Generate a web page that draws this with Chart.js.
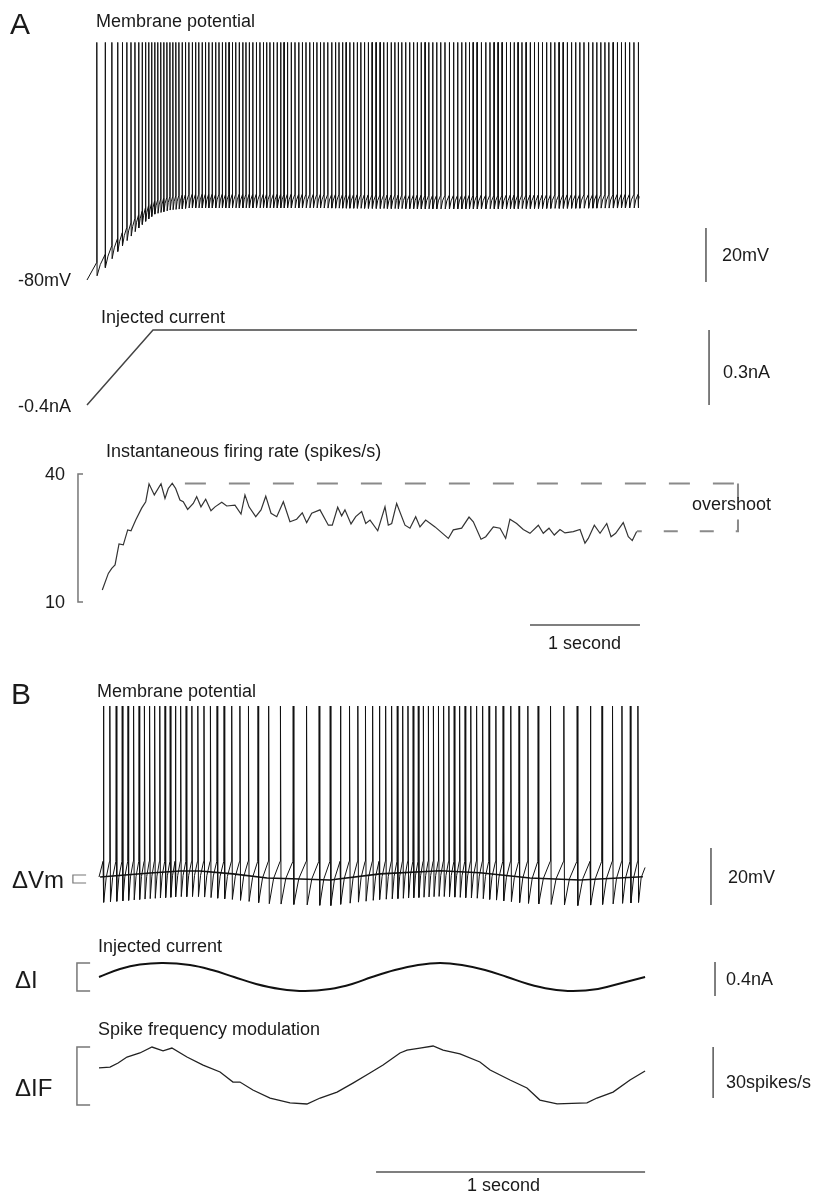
<!DOCTYPE html>
<html>
<head>
<meta charset="utf-8">
<script src="https://cdn.jsdelivr.net/npm/chart.js@4.4.1/dist/chart.umd.min.js"></script>
<style>
body{margin:0;background:#fff;font-family:"Liberation Sans",Arial,Helvetica,sans-serif;color:#1a1a1a;}
#fig{position:relative;width:813px;height:1192px;overflow:hidden;}
#fig canvas{position:absolute;left:0;}
.t{position:absolute;white-space:nowrap;font-size:18px;line-height:1;transform:translateY(-50%);}
.big{font-size:30px;}
.sym{font-size:24px;}
</style>
</head>
<body>
<div id="fig">
<canvas id="aVm" width="813" height="280" style="top:20px"></canvas>
<canvas id="aI" width="813" height="120" style="top:300px"></canvas>
<canvas id="aF" width="813" height="200" style="top:460px"></canvas>
<canvas id="bVm" width="813" height="235" style="top:690px"></canvas>
<canvas id="bI" width="813" height="60" style="top:950px"></canvas>
<canvas id="bF" width="813" height="157" style="top:1035px"></canvas>

<div class="t big" style="left:10px;top:24px">A</div>
<div class="t" style="left:96px;top:21px">Membrane potential</div>
<div class="t" style="left:18px;top:280px">-80mV</div>
<div class="t" style="left:722px;top:255px">20mV</div>
<div class="t" style="left:101px;top:317px">Injected current</div>
<div class="t" style="left:18px;top:406px">-0.4nA</div>
<div class="t" style="left:723px;top:372px">0.3nA</div>
<div class="t" style="left:106px;top:451px">Instantaneous firing rate (spikes/s)</div>
<div class="t" id="tickTop" style="left:45px;top:474px"></div>
<div class="t" id="tickBot" style="left:45px;top:602px"></div>
<div class="t" style="left:692px;top:504px">overshoot</div>
<div class="t" style="left:548px;top:643px">1 second</div>

<div class="t big" style="left:11px;top:694px">B</div>
<div class="t" style="left:97px;top:691px">Membrane potential</div>
<div class="t sym" style="left:12px;top:880px">ΔVm</div>
<div class="t" style="left:728px;top:877px">20mV</div>
<div class="t" style="left:98px;top:946px">Injected current</div>
<div class="t sym" style="left:15px;top:980px">ΔI</div>
<div class="t" style="left:726px;top:979px">0.4nA</div>
<div class="t" style="left:98px;top:1029px">Spike frequency modulation</div>
<div class="t sym" style="left:15px;top:1088px">ΔIF</div>
<div class="t" style="left:726px;top:1082px">30spikes/s</div>
<div class="t" style="left:467px;top:1185px">1 second</div>
</div>
<script>
// ---------- Panel A data ----------
// membrane potential: trough (AHP) level over time, mV
const aTroughT = [0, 0.09, 0.164, 0.255, 0.345, 0.436, 0.527, 0.618, 0.755, 0.936, 2.0, 3.3, 5.02];
const aTroughV = [-80, -78.5, -75.6, -70.7, -66.3, -62.2, -58.5, -55.6, -54.1, -53.3, -53.3, -53.7, -53.3];
const aSpikePeak = 8;      // mV
const aAhp = 5;            // mV from trough up to threshold
const aFirstSpike = 0.088; // s
const aTraceEnd = 5.02;    // s

// injected current ramp, nA
const aCurrentT = [0, 0.6, 5.0];
const aCurrentV = [-0.4, -0.1, -0.1];

// instantaneous firing rate, spikes/s
const aRateT = [0.139,0.194,0.225,0.255,0.291,0.330,0.370,0.400,0.443,0.497,0.534,0.564,0.612,0.673,0.709,0.739,0.775,0.806,0.845,0.875,0.915,0.966,0.997,1.036,1.079,1.127,1.164,1.225,1.270,1.345,1.400,1.436,1.473,1.534,1.582,1.625,1.673,1.725,1.785,1.845,1.906,1.957,1.997,2.043,2.118,2.194,2.230,2.279,2.315,2.345,2.400,2.443,2.497,2.534,2.573,2.643,2.709,2.739,2.770,2.815,2.891,2.936,2.988,3.027,3.079,3.164,3.285,3.330,3.406,3.473,3.512,3.582,3.625,3.694,3.755,3.806,3.845,3.906,3.966,4.027,4.103,4.148,4.200,4.248,4.300,4.345,4.421,4.482,4.527,4.557,4.612,4.664,4.725,4.764,4.806,4.875,4.921,4.957,4.997];
const aRateV = [12.8,16.7,17.9,18.7,23.6,23.4,26.9,26.7,29.2,32.0,33.5,37.7,35.1,37.7,34.3,36.6,37.8,36.6,33.9,33.5,31.7,33.1,34.7,32.3,34.1,31.4,32.3,33.4,32.5,32.7,30.6,35.1,32.3,30.0,31.6,34.8,30.8,30.0,33.5,28.8,29.4,30.9,28.6,30.8,31.6,28.0,28.0,32.2,30.2,31.6,28.3,30.0,31.2,28.4,29.2,26.7,32.3,28.0,28.4,33.1,28.0,27.3,30.0,27.6,29.2,27.6,24.9,26.9,27.3,29.9,28.8,24.7,25.3,27.6,27.3,24.9,29.4,28.4,27.0,26.1,28.0,26.1,27.3,25.7,27.0,26.2,26.5,27.0,23.8,24.9,28.0,26.1,28.4,25.3,26.1,28.6,25.3,24.4,26.5];
const aRateTicks = [40, 10];
const aOvershootLevels = [37.8, 26.6];   // peak and steady rate
const aOvershootSpan = [0.89, 5.0, 5.918];

// ---------- Panel B data ----------
const bVmT = [0.004, 0.190, 0.301, 0.375, 0.498, 0.625, 0.747, 0.859, 1.045, 1.268, 1.416, 1.602, 1.788, 2.022];
const bVmV = [-60, -58.6, -57.9, -57.9, -58.9, -60.35, -60.7, -61.05, -58.9, -57.8, -58.5, -60.35, -61.05, -59.9];
const bSpikePeak = 0;       // mV
const bThreshold = -54.5;   // mV
const bTroughBelowMean = 9; // mV
const bFirstSpike = 0.015;
const bTraceEnd = 2.03;

const bCurrentT = [0,0.078,0.152,0.238,0.338,0.42,0.502,0.584,0.673,0.766,0.859,0.941,1.015,1.1,1.186,1.268,1.349,1.435,1.517,1.595,1.677,1.762,1.855,1.944,2.03];
const bCurrentV = [0,0.094,0.147,0.165,0.141,0.082,0,-0.082,-0.141,-0.165,-0.141,-0.082,0,0.082,0.141,0.165,0.141,0.082,0,-0.082,-0.141,-0.165,-0.141,-0.07,0];

const bRateT = [0,0.041,0.071,0.104,0.152,0.197,0.238,0.271,0.327,0.387,0.450,0.498,0.524,0.572,0.636,0.710,0.773,0.822,0.885,0.944,1.007,1.056,1.119,1.145,1.193,1.242,1.279,1.342,1.416,1.454,1.528,1.591,1.639,1.703,1.814,1.851,1.911,1.974,2.030];
const bRateV = [41.1,41.6,44.0,47.5,49.9,53.4,51.1,52.8,47.5,42.8,38.7,32.8,32.8,28.1,23.4,20.5,19.9,23.4,26.9,32.2,38.1,42.8,49.9,51.6,52.8,54.0,51.6,49.3,44.6,39.9,34.0,29.3,22.2,19.9,20.5,23.4,26.9,34.0,39.3];

// scale bars: [time, from, to]
const aVmBar = [5.627, -80.7, -60.7];
const aIBar = [5.655, -0.4, -0.1];
const aTimeBar = [4.027, 5.027, 4.6];
const bVmBar = [2.275, -69.8, -49.8];
const bIBar = [2.29, -0.224, 0.176];
const bFBar = [2.283, 23.4, 53.4];
const bTimeBar = [1.03, 2.03, -20.1];

// ---------- helpers ----------
function interp(ts, vs, t){
  if(t<=ts[0]) return vs[0];
  for(let i=1;i<ts.length;i++){
    if(t<=ts[i]){let f=(t-ts[i-1])/(ts[i]-ts[i-1]); return vs[i-1]+f*(vs[i]-vs[i-1]);}
  }
  return vs[vs.length-1];
}
function spikesFromRate(ts, vs, t0, t1){
  let out=[t0], phase=0, dt=0.0001;
  for(let t=t0;t<t1;t+=dt){phase+=interp(ts,vs,t)*dt; if(phase>=1){out.push(t); phase-=1;}}
  return out;
}
function spikeTrace(spikes, t1, startV, peak, troughAt, thrAt){
  let pts=[{x:0,y:startV}];
  spikes.forEach((s,i)=>{
    let next = i<spikes.length-1 ? spikes[i+1] : t1;
    let a=s+0.0035;
    pts.push({x:s,y:thrAt(s)});
    pts.push({x:s+0.0012,y:peak});
    pts.push({x:a,y:troughAt(a)});
    let mid=a+(next-a)*0.4;
    pts.push({x:mid,y:troughAt(mid)+0.6*(thrAt(mid)-troughAt(mid))});
    if(i==spikes.length-1) pts.push({x:t1,y:troughAt(t1)+0.85*(thrAt(t1)-troughAt(t1))});
  });
  return pts;
}
const xy=(ts,vs)=>ts.map((t,i)=>({x:t,y:vs[i]}));
function line(data, color, width, extra){
  return Object.assign({data:data,showLine:true,borderColor:color,borderWidth:width,pointRadius:0,fill:false,tension:0},extra||{});
}
const bar=b=>[{x:b[0],y:b[1]},{x:b[0],y:b[2]}];
const hbar=b=>[{x:b[0],y:b[2]},{x:b[1],y:b[2]}];

// px mapping: panel origin x, px per second; row: top, height, reference value, its px, px per unit
function makeChart(id, x0, pxs, top, h, refV, refPx, ppu, datasets){
  let ymax=refV+(refPx-top)/ppu, ymin=refV-(top+h-refPx)/ppu;
  return new Chart(document.getElementById(id),{
    type:'scatter',
    data:{datasets:datasets},
    options:{animation:false,responsive:false,events:[],layout:{padding:0},
      plugins:{legend:{display:false},tooltip:{enabled:false}},
      scales:{x:{type:'linear',display:false,min:-x0/pxs,max:(813-x0)/pxs},
              y:{type:'linear',display:false,min:ymin,max:ymax}}}
  });
}

// ---------- Panel A ----------
const aTrough=t=>interp(aTroughT,aTroughV,t);
const aSpikes=spikesFromRate(aRateT,aRateV,aFirstSpike,aTraceEnd-0.01);
const aVm=spikeTrace(aSpikes,aTraceEnd,aTroughV[0],aSpikePeak,aTrough,t=>aTrough(t)+aAhp);

makeChart('aVm',87,110,20,280,-80,280,2.7,[
  line(aVm,'#111',1),
  line(bar(aVmBar),'#555',1.5)
]);
makeChart('aI',87,110,300,120,-0.4,405,250,[
  line(xy(aCurrentT,aCurrentV),'#444',1.5),
  line(bar(aIBar),'#555',1.5)
]);
document.getElementById('tickTop').textContent=aRateTicks[0];
document.getElementById('tickBot').textContent=aRateTicks[1];
const axL=-0.082, axR=-0.036;
makeChart('aF',87,110,460,200,40,474,128/30,[
  line(xy(aRateT,aRateV),'#333',1.2),
  line([{x:axR,y:aRateTicks[0]},{x:axL,y:aRateTicks[0]},{x:axL,y:aRateTicks[1]},{x:axR,y:aRateTicks[1]}],'#777',1.5),
  line([{x:aOvershootSpan[0],y:aOvershootLevels[0]},{x:aOvershootSpan[2],y:aOvershootLevels[0]}],'#8a8a8a',2,{borderDash:[21,23]}),
  line([{x:aOvershootSpan[2],y:aOvershootLevels[0]},{x:aOvershootSpan[2],y:aOvershootLevels[1]},{x:aOvershootSpan[1],y:aOvershootLevels[1]}],'#8a8a8a',2,{borderDash:[14,22]}),
  line(hbar(aTimeBar),'#555',1.5)
]);

// ---------- Panel B ----------
const bMean=t=>interp(bVmT,bVmV,t);
const bSpikes=spikesFromRate(bRateT,bRateV,bFirstSpike,bTraceEnd-0.005);
const bVm=spikeTrace(bSpikes,bTraceEnd,-60,bSpikePeak,t=>bMean(t)-bTroughBelowMean,t=>bThreshold);
const bL=-0.097, bR=-0.048;
makeChart('bVm',99,269,690,235,-60,877,2.85,[
  line(xy(bVmT,bVmV),'#111',1.6),
  line(bVm,'#111',1),
  line([{x:bR,y:-59.3},{x:bL,y:-59.3},{x:bL,y:-62.1},{x:bR,y:-62.1}],'#777',1.2),
  line(bar(bVmBar),'#555',1.5)
]);
const brL=-0.082, brR=-0.033;
makeChart('bI',99,269,950,60,0,977,85,[
  line(xy(bCurrentT,bCurrentV),'#111',2,{tension:0.4}),
  line([{x:brR,y:0.165},{x:brL,y:0.165},{x:brL,y:-0.165},{x:brR,y:-0.165}],'#777',1.5),
  line(bar(bIBar),'#555',1.5)
]);
makeChart('bF',99,269,1035,157,54,1046,1.7,[
  line(xy(bRateT,bRateV),'#222',1.3),
  line([{x:brR,y:53.4},{x:brL,y:53.4},{x:brL,y:19.3},{x:brR,y:19.3}],'#777',1.5),
  line(bar(bFBar),'#555',1.5),
  line(hbar(bTimeBar),'#555',1.5)
]);
</script>
</body>
</html>
